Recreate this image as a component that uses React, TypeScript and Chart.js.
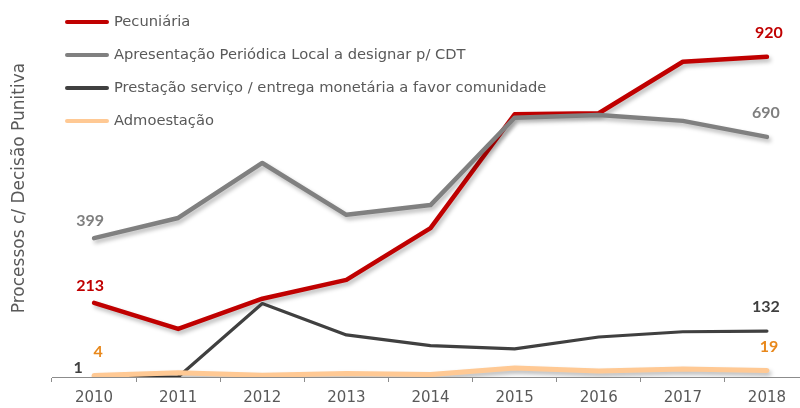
import React, { useEffect, useRef } from "react";
import { Chart, registerables } from "chart.js";

Chart.register(...registerables);

const years = ["2010", "2011", "2012", "2013", "2014", "2015", "2016", "2017", "2018"];
const pecuniaria = [213, 138, 225, 279, 428, 755, 758, 906, 920];
const apresentacao = [399, 457, 615, 466, 494, 745, 753, 736, 690];
const prestacao = [1, 0, 211, 121, 90, 81, 115, 130, 132];
const admoestacao = [4, 12, 5, 10, 7, 26, 17, 23, 19];

const seriesNames = [
  "Pecuniária",
  "Apresentação Periódica Local a designar p/ CDT",
  "Prestação serviço / entrega monetária a favor comunidade",
  "Admoestação",
];
const yTitle = "Processos c/ Decisão Punitiva";

const FONT = "'DejaVu Sans', sans-serif";
const BOLD_FONT = "Lato, 'DejaVu Sans', sans-serif";
const TEXT = "#595959";

// styling per series (not data)
const styles = [
  { color: "#C00000", label: "#C00000", width: 4.5, shadow: true, order: 4, first: [-4, -17], last: [2, -24] },
  { color: "#808080", label: "#7F7F7F", width: 4.5, shadow: true, order: 3, first: [-4, -17], last: [-1, -24] },
  { color: "#404040", label: "#404040", width: 3.2, shadow: false, order: 2, first: [-16, -9], last: [-1, -24] },
  { color: "#FFC994", label: "#E8881C", width: 5, shadow: true, order: 1, first: [4, -24], last: [2, -24] },
];

const shadowPlugin = {
  id: "lineShadow",
  beforeDatasetDraw(chart: any, args: any) {
    const ds = chart.data.datasets[args.index];
    const ctx = chart.ctx;
    ctx.save();
    if (ds.shadow) {
      ctx.shadowColor = "rgba(0,0,0,0.28)";
      ctx.shadowBlur = 4;
      ctx.shadowOffsetX = 2;
      ctx.shadowOffsetY = 3;
    }
  },
  afterDatasetDraw(chart: any) {
    chart.ctx.restore();
  },
};

const labelPlugin = {
  id: "endLabels",
  afterDatasetsDraw(chart: any) {
    const ctx = chart.ctx;
    ctx.save();
    ctx.font = `bold 16px ${BOLD_FONT}`;
    ctx.textAlign = "center";
    ctx.textBaseline = "middle";
    chart.data.datasets.forEach((ds: any, i: number) => {
      const meta = chart.getDatasetMeta(i);
      const st = styles[i];
      const n = ds.data.length;
      const p0 = meta.data[0];
      const p1 = meta.data[n - 1];
      ctx.fillStyle = st.label;
      ctx.fillText(String(ds.data[0]), p0.x + st.first[0], p0.y + st.first[1]);
      ctx.fillText(String(ds.data[n - 1]), p1.x + st.last[0], p1.y + st.last[1]);
    });
    ctx.restore();
  },
};

const legendPlugin = {
  id: "insideLegend",
  afterDraw(chart: any) {
    const ctx = chart.ctx;
    ctx.save();
    ctx.font = `14.7px ${FONT}`;
    ctx.textBaseline = "middle";
    ctx.textAlign = "left";
    chart.data.datasets.forEach((ds: any, i: number) => {
      const y = 22 + i * 33;
      ctx.strokeStyle = styles[i].color;
      ctx.lineWidth = 4;
      ctx.lineCap = "round";
      ctx.beginPath();
      ctx.moveTo(67, y);
      ctx.lineTo(107, y);
      ctx.stroke();
      ctx.fillStyle = TEXT;
      ctx.fillText(ds.label, 114, y);
    });
    // y axis title
    ctx.translate(20, 188);
    ctx.rotate(-Math.PI / 2);
    ctx.font = `17px ${FONT}`;
    ctx.textAlign = "center";
    ctx.fillStyle = TEXT;
    ctx.fillText(yTitle, 0, 0);
    ctx.restore();
  },
};

export default function App() {
  const ref = useRef<HTMLCanvasElement | null>(null);

  useEffect(() => {
    if (!ref.current) return;
    const allData = [pecuniaria, apresentacao, prestacao, admoestacao];
    const chart = new Chart(ref.current, {
      type: "line",
      data: {
        labels: years,
        datasets: allData.map((d, i) => ({
          label: seriesNames[i],
          data: d,
          borderColor: styles[i].color,
          backgroundColor: styles[i].color,
          borderWidth: styles[i].width,
          pointRadius: 0,
          tension: 0,
          fill: false,
          order: styles[i].order,
          shadow: styles[i].shadow,
          borderCapStyle: "round",
          borderJoinStyle: "round",
        })) as any,
      },
      options: {
        animation: false,
        responsive: false,
        layout: { padding: { top: 29, right: 11, left: 52, bottom: 0 } },
        plugins: { legend: { display: false }, tooltip: { enabled: false } },
        scales: {
          x: {
            offset: true,
            grid: {
              display: true,
              offset: true,
              drawOnChartArea: false,
              drawTicks: true,
              tickLength: 5,
              color: "#8C8C8C",
            },
            border: { display: true, color: "#8C8C8C", width: 1 },
            ticks: { color: TEXT, font: { family: FONT, size: 15 }, padding: 7 },
            afterFit: (s: any) => {
              s.height = 31;
            },
          },
          y: {
            display: false,
            min: 0,
            max: 1000,
          },
        },
      },
      plugins: [shadowPlugin, labelPlugin, legendPlugin],
    });
    return () => chart.destroy();
  }, []);

  return (
    <div style={{ width: 820, height: 408, overflow: "hidden" }}>
      <style>{`html,body{margin:0;padding:0;overflow:hidden;background:#fff}`}</style>
      <canvas ref={ref} width={820} height={408} style={{ display: "block" }} />
    </div>
  );
}
